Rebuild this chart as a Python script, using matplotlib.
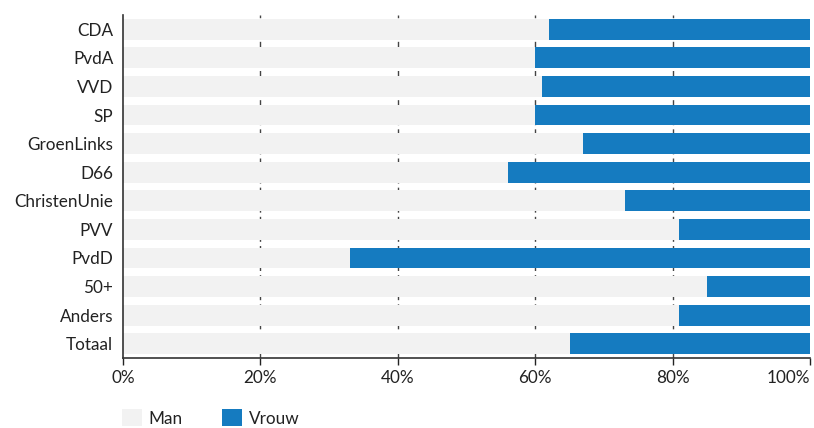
import matplotlib
matplotlib.use("Agg")
import matplotlib.pyplot as plt
from matplotlib.ticker import FuncFormatter

plt.rcParams['font.family'] = ['Lato', 'DejaVu Sans']

categories = ["CDA", "PvdA", "VVD", "SP", "GroenLinks", "D66", "ChristenUnie",
              "PVV", "PvdD", "50+", "Anders", "Totaal"]
man = [62, 60, 61, 60, 67, 56, 73, 81, 33, 85, 81, 65]
vrouw = [100 - m for m in man]
ticks = [0, 20, 40, 60, 80, 100]

fig = plt.figure(figsize=(8.14, 4.28), dpi=100)
ax = fig.add_axes([123/814, 1 - 358/428, (810-123)/814, (358-15)/428])

y = list(range(len(categories)))[::-1]
ax.barh(y, man, height=0.73, color="#f2f2f2", label="Man", zorder=2)
ax.barh(y, vrouw, left=man, height=0.73, color="#157bc0", label="Vrouw", zorder=2)

ax.set_xlim(0, 100)
ax.set_ylim(-0.5, len(categories) - 0.5)
ax.set_yticks(y)
ax.set_yticklabels(categories, fontsize=12.3, color="#222222")
ax.set_xticks(ticks)
ax.xaxis.set_major_formatter(FuncFormatter(lambda v, p: f"{int(v)}%"))
ax.tick_params(axis='x', labelsize=12.3, colors="#222222", length=5, width=1, direction='out')
ax.tick_params(axis='y', length=0, pad=7)
xl = ax.get_xticklabels()
xl[-1].set_horizontalalignment('right')
for t in [20, 40, 60, 80]:
    ax.axvline(t, color="#444444", linestyle=(0, (4, 3)), linewidth=1, zorder=1)
for s in ['top', 'right']:
    ax.spines[s].set_visible(False)
for s in ['left', 'bottom']:
    ax.spines[s].set_color("#333333")
    ax.spines[s].set_linewidth(1.2)

leg = fig.legend(loc='lower left', bbox_to_anchor=(107/814, -0.033), ncol=2, frameon=False,
                 fontsize=12.3, handlelength=1.15, handleheight=1.15, columnspacing=2.3,
                 handletextpad=0.4)
for t in leg.get_texts():
    t.set_color("#222222")

fig.savefig("out.png", dpi=100)
